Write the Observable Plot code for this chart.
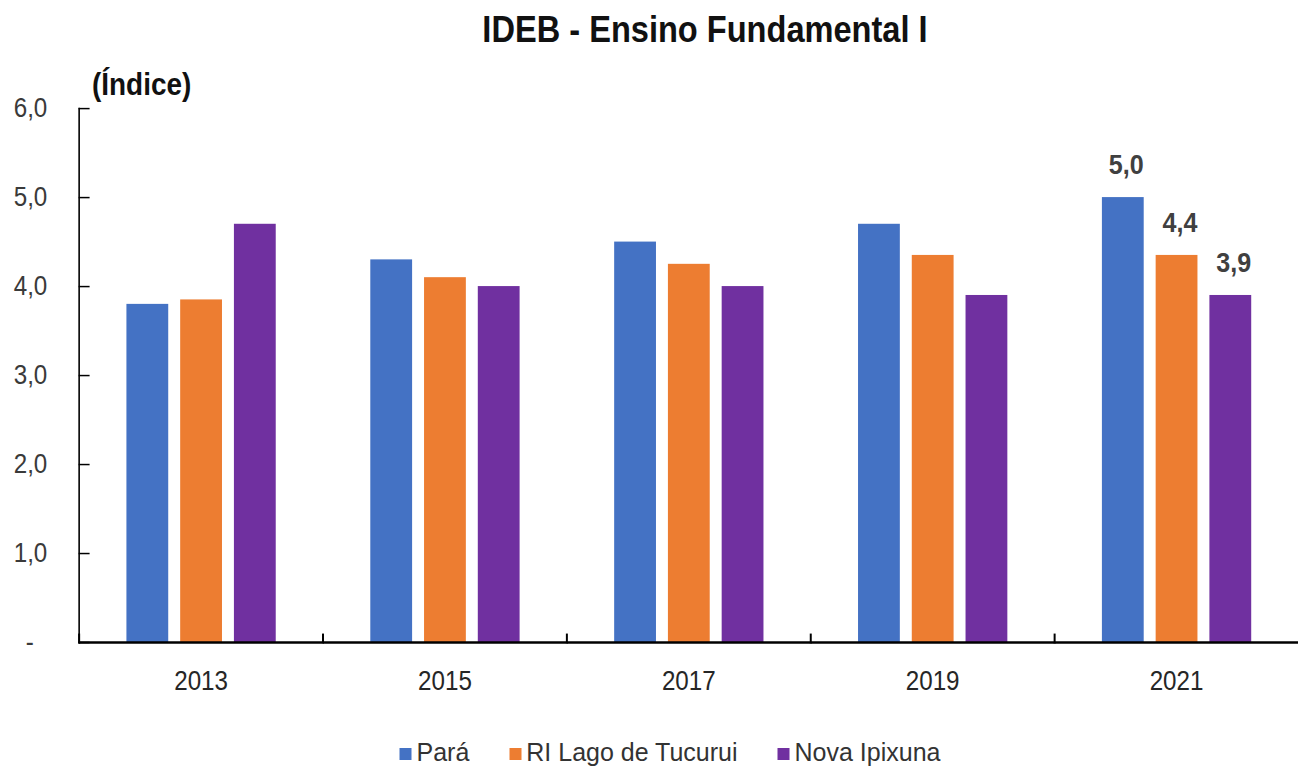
<!DOCTYPE html>
<html>
<head>
<meta charset="utf-8">
<script src="https://cdn.jsdelivr.net/npm/d3@7"></script>
<script src="https://cdn.jsdelivr.net/npm/@observablehq/plot@0.6"></script>
<style>
  html, body { margin: 0; padding: 0; background: #fff; overflow: hidden; width: 1298px; height: 769px; }
  #wrap { position: relative; width: 1298px; height: 769px; font-family: "Liberation Sans", Arial, sans-serif; }
  #chart { position: absolute; left: 0; top: 0; }
  #title { position: absolute; left: 705px; top: 12px; font-size: 36px; line-height: 36px; font-weight: bold; color: #111;
           white-space: nowrap; transform: translateX(-50%) scaleX(0.905); transform-origin: center; }
  #ylabel { position: absolute; left: 92px; top: 71px; font-size: 31px; line-height: 28px; font-weight: bold; color: #111;
            white-space: nowrap; transform: scaleX(0.9); transform-origin: left center; }
  #legend { position: absolute; left: 670px; top: 739px; display: flex; align-items: center; white-space: nowrap;
            transform: translateX(-50%); font-size: 25px; line-height: 26px; color: #333; }
  .item { display: flex; align-items: center; margin: 0 20px; }
  .sw { width: 12px; height: 12px; margin-right: 5px; margin-top: 3px; }
</style>
</head>
<body>
<div id="wrap">
  <div id="chart"></div>
  <div id="title">IDEB - Ensino Fundamental I</div>
  <div id="ylabel">(Índice)</div>
  <div id="legend"></div>
</div>
<script>
// ---- data ----
const years = ["2013", "2015", "2017", "2019", "2021"];
const series = ["Pará", "RI Lago de Tucurui", "Nova Ipixuna"];
const para = [3.8, 4.3, 4.5, 4.7, 5.0];
const riLagoTucurui = [3.85, 4.1, 4.25, 4.35, 4.35];
const novaIpixuna = [4.7, 4.0, 4.0, 3.9, 3.9];
const colors = ["#4472C4", "#ED7D31", "#7030A0"];
const yTicks = [0, 1, 2, 3, 4, 5, 6];
const labelYear = "2021";
const labels2021 = ["5,0", "4,4", "3,9"];

const seriesValues = [para, riLagoTucurui, novaIpixuna];
const rows = [];
years.forEach((yr, i) => seriesValues.forEach((arr, j) => rows.push({year: yr, series: series[j], value: arr[i]})));
const li = years.indexOf(labelYear);
const labelRows = series.map((s, j) => ({year: labelYear, series: s, value: seriesValues[j][li], label: labels2021[j]}));

const fmt = d => d === 0 ? "-\u00a0\u00a0" : d.toFixed(1).replace(".", ",");

const W = 1304, ML = 79, MR = 0, MT = 108.6, MB = 124, H = 769;
const facetW = (W - ML - MR) / years.length;
const frameH = H - MT - MB;

const chart = Plot.plot({
  width: W, height: H,
  marginLeft: ML, marginRight: MR, marginTop: MT, marginBottom: MB,
  style: {fontFamily: '"Liberation Sans", Arial, sans-serif', fontSize: "27px", background: "transparent", color: "#333"},
  fx: {domain: years, padding: 0, label: null},
  x: {domain: series, paddingInner: 0.23, paddingOuter: 0.862, axis: null},
  y: {domain: [0, 6], label: null},
  color: {domain: series, range: colors},
  marks: [
    Plot.barY(rows, {fx: "year", x: "series", y: "value", fill: "series"}),
    Plot.ruleY([0], {stroke: "#000", strokeWidth: 2.5}),
    Plot.frame({anchor: "left", insetTop: frameH - 8, stroke: "#000", strokeWidth: 2}),
    Plot.frame({anchor: "left", facetAnchor: "left", stroke: "#000", strokeWidth: 1.6}),
    Plot.ruleY(yTicks, {facetAnchor: "left", insetRight: facetW - 11, stroke: "#000", strokeWidth: 1.5}),
    Plot.axisY({ticks: yTicks, tickSize: 0, tickPadding: 32, tickFormat: fmt, fontSize: 27, fill: "#3a3a3a", label: null}),
    Plot.axisFx({anchor: "bottom", tickSize: 0, tickPadding: 29, fontSize: 27, fill: "#262626", label: null}),
    Plot.text(labelRows, {fx: "year", x: "series", y: "value", text: "label", lineAnchor: "bottom", dy: -24, dx: 3,
                          fontSize: 28, fontWeight: "bold", fill: "#404040"})
  ]
});

// narrow the glyphs horizontally like the original (condensed look)
chart.querySelectorAll("text").forEach(t => {
  const tr = t.getAttribute("transform");
  if (tr) {
    t.setAttribute("transform", tr + " scale(0.9,1)");
  } else {
    const x = +(t.getAttribute("x") || 0), y = +(t.getAttribute("y") || 0);
    t.removeAttribute("x"); t.removeAttribute("y");
    t.setAttribute("transform", `translate(${x},${y}) scale(0.9,1)`);
  }
});
document.getElementById("chart").appendChild(chart);

// legend
const leg = document.getElementById("legend");
series.forEach((s, j) => {
  const it = document.createElement("div"); it.className = "item";
  const sw = document.createElement("span"); sw.className = "sw"; sw.style.background = colors[j];
  const tx = document.createElement("span"); tx.textContent = s;
  it.appendChild(sw); it.appendChild(tx); leg.appendChild(it);
});
</script>
</body>
</html>
